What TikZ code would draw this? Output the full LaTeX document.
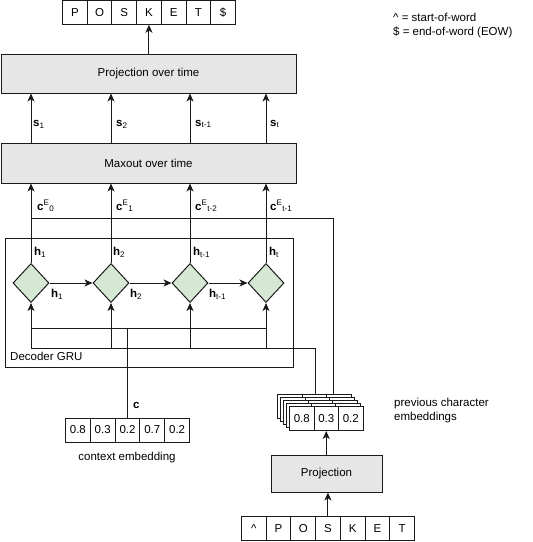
\documentclass[tikz,border=0pt]{standalone}
\usepackage{fontspec}
\setmainfont{Liberation Sans}
\usetikzlibrary{shapes.geometric,arrows.meta}
\definecolor{gfill}{HTML}{D5E8D4}
\definecolor{bfill}{HTML}{E6E6E6}
\definecolor{ln}{HTML}{1A1A1A}
\begin{document}
\begin{tikzpicture}[x=1pt,y=-1pt,
  font=\fontsize{11.5}{14}\selectfont,
  line/.style={draw=ln, line width=1pt},
  arr/.style={line, -{Stealth[length=8pt,width=7pt,inset=2.2pt]}},
  cell/.style={draw=ln, line width=1pt, fill=white, minimum width=24.7pt, minimum height=23.5pt, inner sep=0pt, anchor=west},
  scell/.style={draw=ln, line width=1pt, fill=white, minimum width=24.5pt, minimum height=24pt, inner sep=0pt, anchor=north west},
  box/.style={draw=ln, line width=1pt, fill=bfill, inner sep=0pt},
  gate/.style={diamond, draw=ln, line width=1pt, fill=gfill, minimum width=36pt, minimum height=39pt, inner sep=0pt},
  lbl/.style={inner sep=0pt, anchor=west}
]
\useasboundingbox (0,0) rectangle (533,542);

% output sequence
\foreach \t [count=\i from 0] in {P,O,S,K,E,T,\$}
  \node[cell] (top\i) at ({62+\i*24.7},12.5) {\t};

% legend
\node[lbl] (leg1) at (393,17) {\textasciicircum{} = start-of-word};
\node[lbl] (leg2) at (393,32) {\$ = end-of-word (EOW)};

% projection over time and maxout
\node[box, minimum width=295pt, minimum height=39pt] (projt) at (148.5,73.5) {Projection over time};
\node[box, minimum width=295pt, minimum height=40pt] (maxout) at (148.5,163) {Maxout over time};
\draw[arr] (projt.north -| top3.south) -- (top3.south);

% decoder GRU box
\node[draw=ln, line width=1pt, minimum width=288pt, minimum height=129pt, inner sep=0pt, anchor=north west] (gru) at (5,238) {};
\node[lbl] (grulbl) at (10,356) {Decoder GRU};

% gates
\node[gate] (d1) at (31,283) {};
\node[gate] (d2) at (111,283) {};
\node[gate] (d3) at (190,283) {};
\node[gate] (d4) at (266,283) {};

\draw[arr] (d1.east) -- (d2.west);
\draw[arr] (d2.east) -- (d3.west);
\draw[arr] (d3.east) -- (d4.west);

\node[lbl] at (51,294) {\textbf{h}\textsubscript{1}};
\node[lbl] at (130,294) {\textbf{h}\textsubscript{2}};
\node[lbl] at (209,294) {\textbf{h}\textsubscript{t-1}};

% upward hidden states
\foreach \d in {d1,d2,d3,d4} {
  \draw[arr] (\d.north) -- (\d.north |- maxout.south);
  \draw[arr] (\d.north |- maxout.north) -- (\d.north |- projt.south);
}
\node[lbl] at (34,252) {\textbf{h}\textsubscript{1}};
\node[lbl] at (113,252) {\textbf{h}\textsubscript{2}};
\node[lbl] at (193,252) {\textbf{h}\textsubscript{t-1}};
\node[lbl] at (269,252) {\textbf{h}\textsubscript{t}};

\node[lbl] at (33,124) {\textbf{s}\textsubscript{1}};
\node[lbl] at (116,124) {\textbf{s}\textsubscript{2}};
\node[lbl] at (195,124) {\textbf{s}\textsubscript{t-1}};
\node[lbl] at (270,124) {\textbf{s}\textsubscript{t}};

\node[lbl] at (37,206) {\textbf{c}\textsuperscript{E}\textsubscript{0}};
\node[lbl] at (116,206) {\textbf{c}\textsuperscript{E}\textsubscript{1}};
\node[lbl] at (195,206) {\textbf{c}\textsuperscript{E}\textsubscript{t-2}};
\node[lbl] at (270,206) {\textbf{c}\textsuperscript{E}\textsubscript{t-1}};

% previous character embeddings (stack)
\foreach \k in {4,3,2,1} {
  \foreach \j in {0,1,2}
    \node[scell] (b\k c\j) at ({289-3*\k+\j*24.5},{406-3*\k}) {};
}
\node[scell] (f0) at (289,406) {0.8};
\node[scell] (f1) at (313.5,406) {0.3};
\node[scell] (f2) at (338,406) {0.2};
\coordinate (embA) at (315,394);
\coordinate (embB) at (333,394);
\node[lbl, align=left] (prevlbl) at (394,411) {previous character\\embeddings};

% inputs into gates
\foreach \d in {d1,d2,d3,d4}
  \draw[arr] (\d.south |- 0,348) -- (\d.south);
\draw[line] (d1.south |- 0,348) -- (embA |- 0,348) -- (embA);
\draw[line] (d1.north |- 0,218) -- (embB |- 0,218) -- (embB);
\draw[line] (d1.south |- 0,328) -- (d4.south |- 0,328);

% context embedding
\foreach \t [count=\i from 0] in {0.8,0.3,0.2,0.7,0.2}
  \node[cell, minimum width=24.8pt, minimum height=24pt] (ctx\i) at ({65+\i*24.8},430) {\t};
\draw[line] (ctx2.north) -- (ctx2.north |- 0,328);
\node[lbl] at (133,405) {\textbf{c}};
\node[inner sep=0pt] (ctxlbl) at (127,458) {context embedding};

% projection and input sequence
\node[box, minimum width=111pt, minimum height=37pt] (proj) at (326.5,473.5) {Projection};
\draw[arr] (proj.north -| f1.south) -- (f1.south);
\foreach \t [count=\i from 0] in {\textasciicircum,P,O,S,K,E,T}
  \node[cell] (in\i) at ({241+\i*24.7},528.5) {\t};
\draw[arr] (in3.north) -- (in3.north |- proj.south);
\end{tikzpicture}
\end{document}
